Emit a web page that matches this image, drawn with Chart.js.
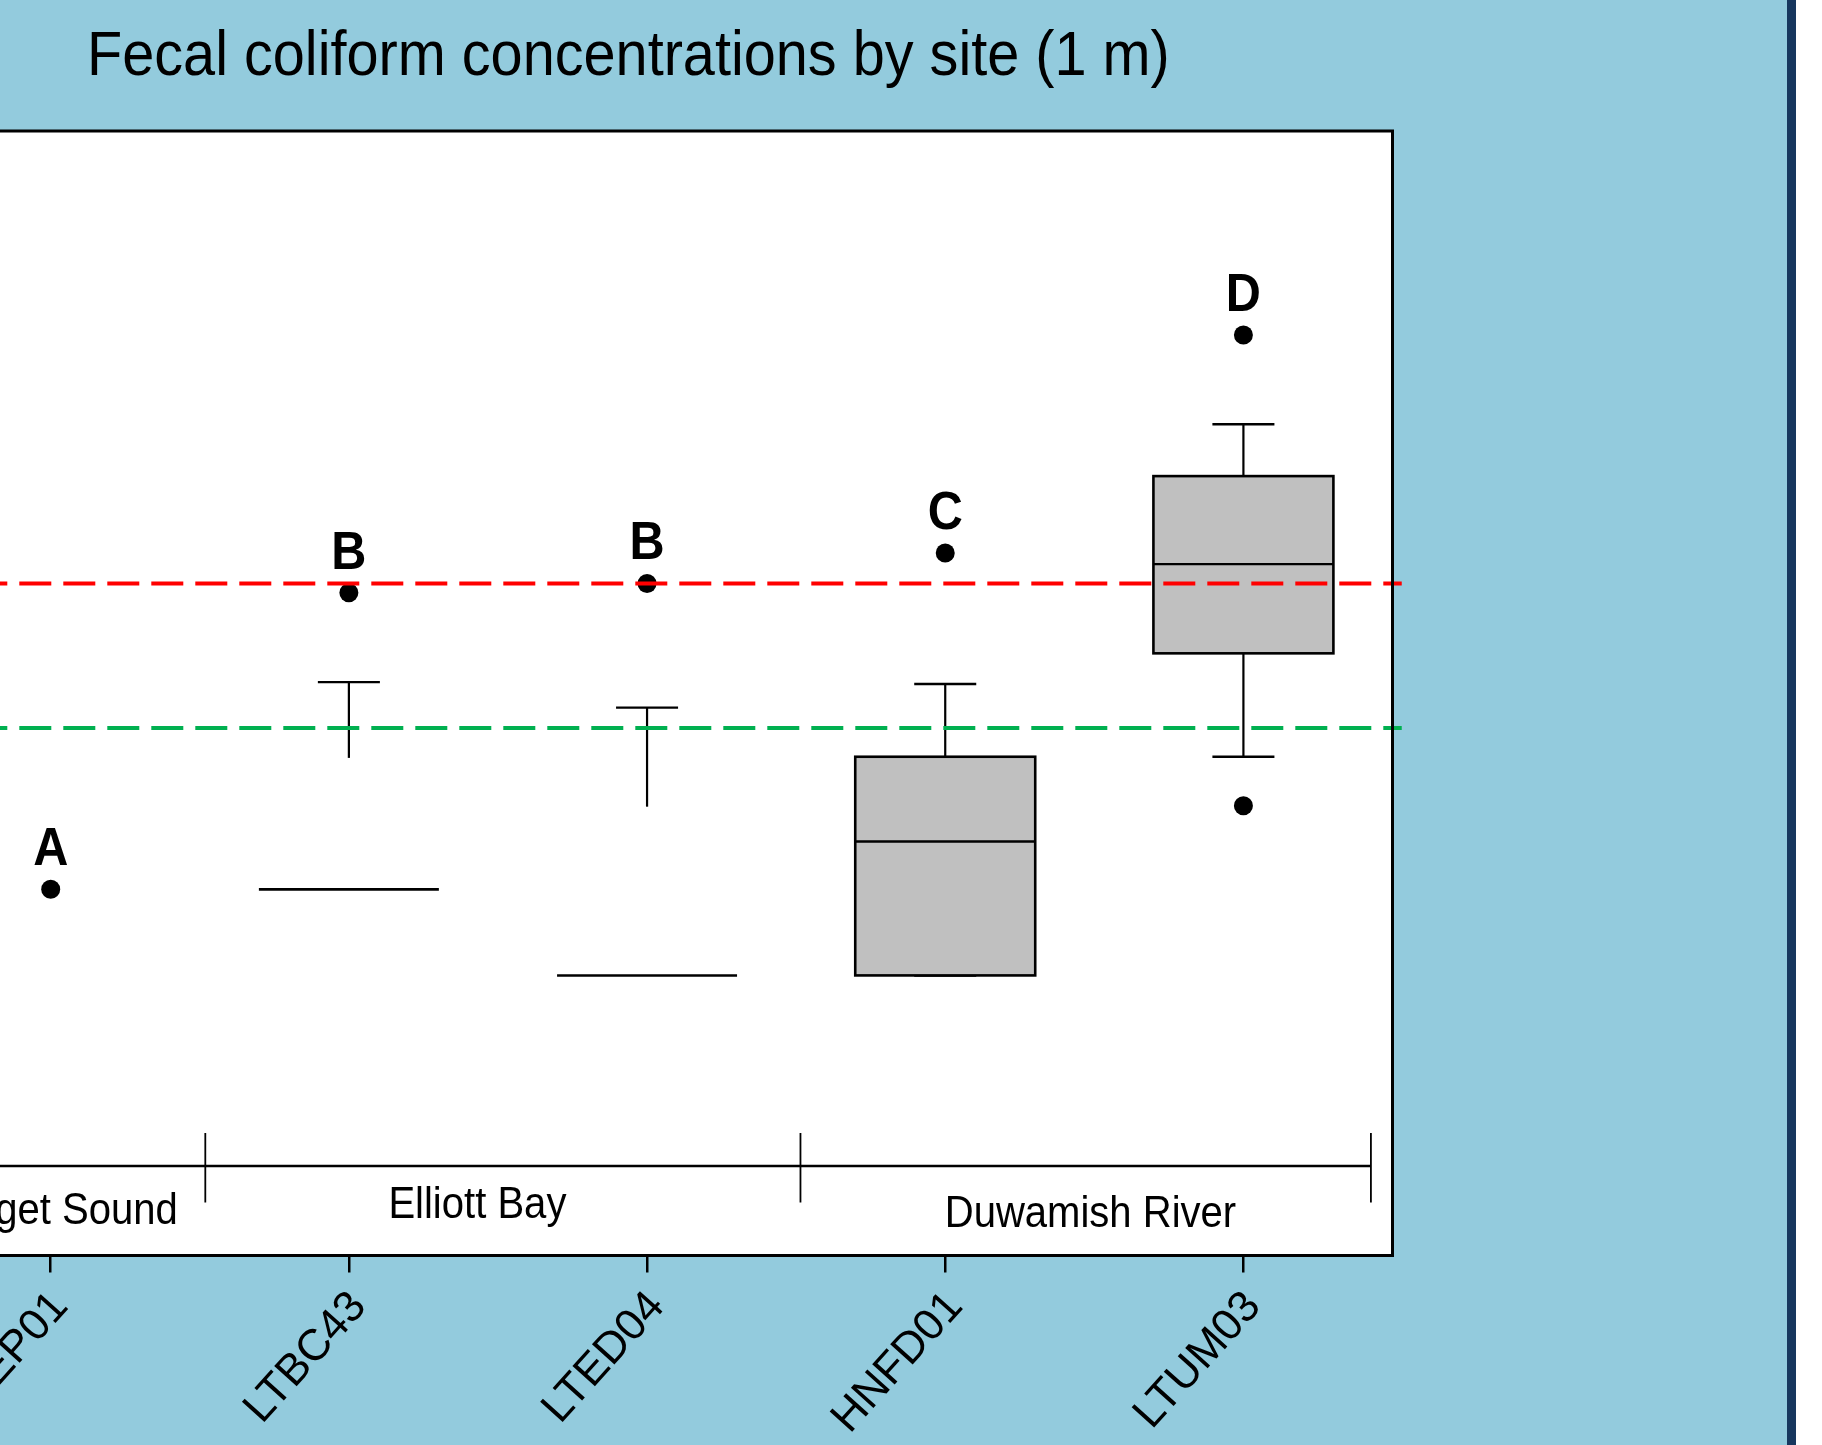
<!DOCTYPE html>
<html><head><meta charset="utf-8">
<script src="https://cdn.jsdelivr.net/npm/chart.js@4.4.1/dist/chart.umd.min.js"></script>
<style>
html,body{margin:0;padding:0;width:1822px;height:1445px;overflow:hidden;background:#93CBDD;}
#c{position:absolute;left:-40px;top:0;width:1827px;height:1445px;}
#navy{position:absolute;left:1787px;top:0;width:9px;height:1445px;background:#17375E;}
#white{position:absolute;left:1796px;top:0;width:26px;height:1445px;background:#ffffff;}
</style></head><body>
<canvas id="c" width="1827" height="1445"></canvas>
<div id="navy"></div><div id="white"></div>
<script>
// ---- data ----
const title = 'Fecal coliform concentrations by site (1 m)';
const sites = ['LSEP01', 'LTBC43', 'LTED04', 'HNFD01', 'LTUM03'];
const q1     = [null, 4,    2.05, 2.05, 25];
const median = [null, 4,    2.05, 5.8,  50];
const q3     = [null, 4,    2.05, 11.2, 99];
const whiskerHighStart = [null, 11.1, 7.6,  11.2, 99];
const whiskerHigh      = [null, 20,   16.4, 19.7, 148];
const whiskerLowStart  = [null, null, null, 2.05, 25];
const whiskerLow       = [null, null, null, 2.05, 11.2];
const outlierSite  = [0, 1, 2, 3, 4, 4];
const outlierValue = [4, 40, 43, 54.5, 296, 7.66];
const letters = ['A', 'B', 'B', 'C', 'D'];
const groups = ['Puget Sound', 'Elliott Bay', 'Duwamish River'];
const redLimit = 43;
const greenLimit = 14;

// ---- layout / style constants ----
const OFF = 40;                 // canvas is shifted 40px left
const X_MIN = -0.2371, X_MAX = 4.5, LINE_END = 4.531;
const BOX_W = 0.6036, CAP_W = 0.208;
const groupLayout = {
  centers: [0.038, 1.431, 3.487],
  baselines: [31.5, 38, 29],     // px above chart bottom
  dividers: [0.5185, 2.5145, 4.4276]
};

function txt(ctx, s, x, y, font, align, sx) {
  ctx.save();
  ctx.translate(x, y);
  ctx.scale(sx, 1);
  ctx.font = font;
  ctx.textAlign = align;
  ctx.textBaseline = 'alphabetic';
  ctx.fillStyle = '#000';
  ctx.fillText(s, 0, 0);
  ctx.restore();
}
function seg(ctx, x1, y1, x2, y2, w) {
  ctx.lineWidth = w;
  ctx.beginPath(); ctx.moveTo(x1, y1); ctx.lineTo(x2, y2); ctx.stroke();
}

const boxPlugin = {
  id: 'boxes',
  beforeDraw(chart) {
    const { ctx, chartArea: a } = chart;
    ctx.save();
    ctx.fillStyle = '#ffffff';
    ctx.fillRect(a.left, a.top, a.right - a.left, a.bottom - a.top);
    ctx.restore();
  },
  beforeDatasetsDraw(chart) {
    const { ctx, scales: { x, y } } = chart;
    ctx.save();
    ctx.strokeStyle = '#000';
    sites.forEach((s, i) => {
      const cx = x.getPixelForValue(i);
      const bl = x.getPixelForValue(i - BOX_W / 2), br = x.getPixelForValue(i + BOX_W / 2);
      const cl = x.getPixelForValue(i - CAP_W / 2), cr = x.getPixelForValue(i + CAP_W / 2);
      if (whiskerHigh[i] != null) {
        seg(ctx, cx, y.getPixelForValue(whiskerHighStart[i]), cx, y.getPixelForValue(whiskerHigh[i]), 2.2);
        const yc = y.getPixelForValue(whiskerHigh[i]);
        seg(ctx, cl, yc, cr, yc, 2.4);
      }
      if (whiskerLow[i] != null) {
        seg(ctx, cx, y.getPixelForValue(whiskerLowStart[i]), cx, y.getPixelForValue(whiskerLow[i]), 2.2);
        const yc = y.getPixelForValue(whiskerLow[i]);
        seg(ctx, cl, yc, cr, yc, 2.4);
      }
      if (q1[i] != null) {
        const yt = y.getPixelForValue(q3[i]), yb = y.getPixelForValue(q1[i]);
        if (q3[i] > q1[i]) {
          ctx.fillStyle = '#C0C0C0';
          ctx.fillRect(bl, yt, br - bl, yb - yt);
          ctx.lineWidth = 2.6;
          ctx.strokeRect(bl, yt, br - bl, yb - yt);
          const ym = y.getPixelForValue(median[i]);
          seg(ctx, bl, ym, br, ym, 2.3);
        } else {
          const ym = y.getPixelForValue(median[i]);
          seg(ctx, bl, ym, br, ym, 2.6);
        }
      }
    });
    ctx.restore();
  },
  afterDraw(chart) {
    const { ctx, chartArea: a, scales: { x, y } } = chart;
    ctx.save();
    // plot border
    ctx.strokeStyle = '#000';
    ctx.lineWidth = 3;
    ctx.strokeRect(a.left, a.top, a.right - a.left, a.bottom - a.top);
    // group bracket
    const gy = a.bottom - 89.5;
    seg(ctx, a.left, gy, x.getPixelForValue(groupLayout.dividers[2]), gy, 2.4);
    groupLayout.dividers.forEach(d => {
      const px = x.getPixelForValue(d);
      seg(ctx, px, a.bottom - 122.5, px, a.bottom - 53, 1.8);
    });
    groups.forEach((g, i) => {
      txt(ctx, g, x.getPixelForValue(groupLayout.centers[i]), a.bottom - groupLayout.baselines[i],
          "44px 'Liberation Sans', Arial, sans-serif", 'center', 0.91);
    });
    // significance letters above the highest point of each site
    letters.forEach((L, i) => {
      let top = -Infinity;
      outlierSite.forEach((s, k) => { if (s === i) top = Math.max(top, outlierValue[k]); });
      if (whiskerHigh[i] != null) top = Math.max(top, whiskerHigh[i]);
      txt(ctx, L, x.getPixelForValue(i), y.getPixelForValue(top) - 24,
          "bold 54px 'Liberation Sans', Arial, sans-serif", 'center', 0.9);
    });
    // title
    txt(ctx, title, 87 + OFF, 75, "63px 'Liberation Sans', Arial, sans-serif", 'left', 0.915);
    ctx.restore();
  }
};

const limitLine = (v, color) => ({
  type: 'line',
  data: [{ x: X_MIN, y: v }, { x: LINE_END, y: v }],
  borderColor: color,
  borderWidth: 4,
  borderDash: [32, 12],
  borderDashOffset: 4.7,
  pointRadius: 0,
  fill: false,
  clip: false
});

new Chart(document.getElementById('c'), {
  type: 'scatter',
  data: {
    datasets: [
      limitLine(redLimit, '#FF0000'),
      limitLine(greenLimit, '#00B050'),
      {
        type: 'scatter',
        data: outlierSite.map((s, k) => ({ x: s, y: outlierValue[k] })),
        backgroundColor: '#000',
        borderColor: '#000',
        borderWidth: 0,
        pointRadius: 9.5,
        pointHoverRadius: 9.5
      }
    ]
  },
  options: {
    responsive: false,
    animation: false,
    devicePixelRatio: 1,
    events: [],
    layout: { padding: { left: 20, top: 131, right: 394.5, bottom: 0 } },
    plugins: { legend: { display: false }, tooltip: { enabled: false }, title: { display: false } },
    scales: {
      x: {
        type: 'linear',
        min: X_MIN, max: X_MAX,
        bounds: 'data',
        afterBuildTicks: s => { s.ticks = sites.map((_, i) => ({ value: i })); },
        afterFit: s => { s.height = 1445 - 1255.5; s.paddingLeft = 0; s.paddingRight = 0; },
        border: { display: false },
        grid: { display: true, drawOnChartArea: false, drawTicks: true, tickLength: 17, color: '#000', lineWidth: 2.5 },
        ticks: {
          autoSkip: false,
          minRotation: 48, maxRotation: 48,
          padding: 9,
          labelOffset: 10,
          color: '#000',
          font: { family: "'Liberation Sans', Arial, sans-serif", size: 44 },
          callback: v => sites[v]
        }
      },
      y: {
        type: 'logarithmic',
        min: 0.23294, max: 1443.6,
        bounds: 'data',
        display: false
      }
    }
  },
  plugins: [boxPlugin]
});
</script>
</body></html>
